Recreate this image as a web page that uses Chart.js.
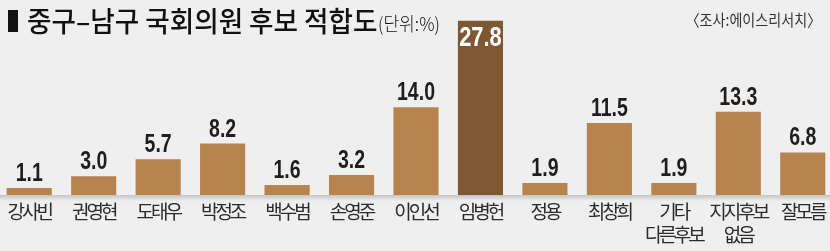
<!DOCTYPE html>
<html>
<head>
<meta charset="utf-8">
<script src="https://cdn.jsdelivr.net/npm/chart.js@4/dist/chart.umd.min.js"></script>
<style>
  html, body { margin: 0; padding: 0; background: #efefef; overflow: hidden; }
  #wrap { position: relative; width: 830px; height: 251px; }
  #chart { position: absolute; left: -3px; top: 0; }
  .title { position: absolute; left: 8px; top: 0px; white-space: nowrap; font-family: "Noto Sans CJK KR"; color: #111; }
  .title .mark { position: absolute; left: 0; top: 10px; width: 10px; height: 22px; background: #111; }
  .title .main { position: absolute; left: 19px; top: 0; font-size: 28px; font-weight: 500; transform: scaleX(0.95); transform-origin: left center; }
  .title .unit { position: absolute; left: 370px; top: 9px; font-size: 19px; font-weight: 300; transform: scaleX(0.9); transform-origin: left center; }
  .source { position: absolute; right: 9px; top: 7px; font-family: "Noto Sans CJK KR"; font-size: 16px; font-weight: 400; color: #333; transform: scaleX(0.88); transform-origin: right center; white-space: nowrap; }
</style>
</head>
<body>
<div id="wrap">
  <canvas id="chart" width="838" height="251"></canvas>
  <div class="title"><span class="mark"></span><span class="main">중구–남구 국회의원 후보 적합도</span><span class="unit">(단위:%)</span></div>
  <div class="source">〈조사:에이스리서치〉</div>
</div>
<script>
// data
const candidates = ['강사빈', '권영현', '도태우', '박정조', '백수범', '손영준', '이인선', '임병헌', '정용', '최창희', ['기타', '다른후보'], ['지지후보', '없음'], '잘모름'];
const support = [1.1, 3.0, 5.7, 8.2, 1.6, 3.2, 14.0, 27.8, 1.9, 11.5, 1.9, 13.3, 6.8];
const leader = 7;

const barColor = '#b7834f';
const leadColor = '#7e5833';

// tighter hangul for the axis labels, reset before bars are drawn
const tightTicks = {
  id: 'tightTicks',
  beforeDraw(chart) { chart.ctx.letterSpacing = '-3px'; },
  beforeDatasetsDraw(chart) { chart.ctx.letterSpacing = '0px'; }
};

const baseShadow = {
  id: 'baseShadow',
  beforeDatasetsDraw(chart) {
    const { ctx, chartArea } = chart;
    const y = chartArea.bottom;
    const g = ctx.createLinearGradient(0, y, 0, y + 6);
    g.addColorStop(0, 'rgba(0,0,0,0.18)');
    g.addColorStop(1, 'rgba(0,0,0,0)');
    ctx.save();
    ctx.fillStyle = g;
    ctx.fillRect(chartArea.left, y, chartArea.right - chartArea.left, 6);
    ctx.restore();
  }
};

// condensed bold numbers: squeeze a normal bold face horizontally
function narrowText(ctx, txt, x, y, size, color) {
  ctx.save();
  ctx.translate(x, y);
  ctx.scale(0.78, 1);
  ctx.font = 'bold ' + size + 'px "Liberation Sans", Arial, sans-serif';
  ctx.fillStyle = color;
  ctx.textAlign = 'center';
  ctx.textBaseline = 'alphabetic';
  ctx.fillText(txt, 0, 0);
  ctx.restore();
}

const valueLabels = {
  id: 'valueLabels',
  afterDatasetsDraw(chart) {
    const { ctx } = chart;
    chart.getDatasetMeta(0).data.forEach((bar, i) => {
      const txt = support[i].toFixed(1);
      if (i === leader) {
        narrowText(ctx, txt, bar.x, bar.y + 25, 28, '#ffffff');
      } else {
        narrowText(ctx, txt, bar.x, bar.y - 7, 25, '#1e1e1e');
      }
    });
  }
};

new Chart(document.getElementById('chart'), {
  type: 'bar',
  data: {
    labels: candidates,
    datasets: [{
      data: support,
      backgroundColor: support.map((v, i) => i === leader ? leadColor : barColor),
      borderWidth: 0,
      barPercentage: 0.7,
      categoryPercentage: 1.0
    }]
  },
  options: {
    responsive: false,
    animation: false,
    layout: { padding: { top: 7, left: 0, right: 0, bottom: 0 } },
    plugins: { legend: { display: false }, tooltip: { enabled: false } },
    scales: {
      x: {
        grid: { display: false },
        border: { display: false },
        ticks: {
          color: '#2b2b2b',
          padding: -3,
          maxRotation: 0,
          autoSkip: false,
          font: { family: '"Noto Sans CJK KR"', size: 19, lineHeight: 1.22 }
        },
        afterFit(scale) { scale.height = 56; }
      },
      y: {
        display: false,
        min: 0,
        max: 30
      }
    }
  },
  plugins: [tightTicks, baseShadow, valueLabels]
});
</script>
</body>
</html>
